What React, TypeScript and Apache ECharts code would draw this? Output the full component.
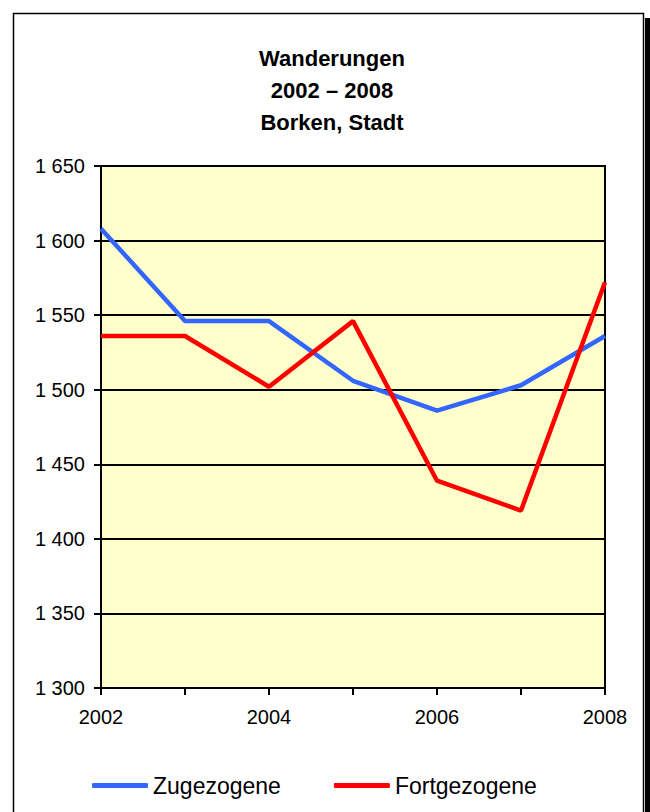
import React, { useEffect, useRef } from "react";
import * as echarts from "echarts";

const years = ["2002", "2003", "2004", "2005", "2006", "2007", "2008"];
const zugezogene = [1608, 1546, 1546, 1506, 1486, 1503, 1536];
const fortgezogene = [1536, 1536, 1502, 1546, 1439, 1419, 1572];
const titleLines = ["Wanderungen", "2002 – 2008", "Borken, Stadt"];
const yMin = 1300;
const yMax = 1650;
const yStep = 50;

const FONT = "'Liberation Sans', Arial, sans-serif";

export default function App() {
  const ref = useRef<HTMLDivElement>(null);
  useEffect(() => {
    if (!ref.current) return;
    const chart = echarts.init(ref.current, null, { renderer: "svg" });
    chart.setOption({
      animation: false,
      backgroundColor: "#ffffff",
      textStyle: { fontFamily: FONT },
      title: {
        text: titleLines.join("\n"),
        left: 327,
        textAlign: "center",
        top: 37,
        textStyle: {
          fontFamily: FONT,
          fontSize: 22,
          fontWeight: "bold",
          color: "#000",
          lineHeight: 32,
        },
      },
      graphic: [
        {
          type: "rect",
          shape: { x: 13.5, y: 13.5, width: 630, height: 820 },
          style: { fill: "none", stroke: "#000", lineWidth: 1.5 },
          z: 100,
        },
        {
          type: "rect",
          shape: { x: 645, y: 18, width: 6, height: 800 },
          style: { fill: "#000" },
          z: 100,
        },
      ],
      legend: {
        left: 87,
        top: 769,
        itemWidth: 56,
        itemHeight: 5,
        itemGap: 53,
        icon: "roundRect",
        textStyle: { fontFamily: FONT, fontSize: 23, color: "#000" },
        data: ["Zugezogene", "Fortgezogene"],
      },
      grid: {
        left: 101,
        right: 45,
        top: 166,
        bottom: 124,
        show: true,
        backgroundColor: "#FFFFCC",
        borderColor: "#000",
        borderWidth: 2,
      },
      xAxis: {
        type: "category",
        data: years,
        boundaryGap: false,
        axisLine: { lineStyle: { color: "#000", width: 2 } },
        axisTick: { show: true, interval: 0, length: 7, lineStyle: { color: "#000", width: 2 } },
        axisLabel: { interval: 1, color: "#000", fontSize: 20, fontFamily: FONT, margin: 19 },
        splitLine: { show: false },
      },
      yAxis: {
        type: "value",
        min: yMin,
        max: yMax,
        interval: yStep,
        axisLine: { show: true, lineStyle: { color: "#000", width: 2 } },
        axisTick: { show: true, length: 7, lineStyle: { color: "#000", width: 2 } },
        axisLabel: {
          color: "#000",
          fontSize: 20,
          fontFamily: FONT,
          margin: 16,
          formatter: (v: number) => String(v).replace(/\B(?=(\d{3})+(?!\d))/g, " "),
        },
        splitLine: { show: true, lineStyle: { color: "#000", width: 2 } },
      },
      series: [
        {
          name: "Zugezogene",
          type: "line",
          data: zugezogene,
          symbol: "none",
          lineStyle: { color: "#3366FF", width: 4.5 },
          itemStyle: { color: "#3366FF" },
          z: 3,
        },
        {
          name: "Fortgezogene",
          type: "line",
          data: fortgezogene,
          symbol: "none",
          lineStyle: { color: "#FF0000", width: 4.5 },
          itemStyle: { color: "#FF0000" },
          z: 4,
        },
      ],
    });
    return () => chart.dispose();
  }, []);
  return (
    <div
      ref={ref}
      style={{ position: "absolute", left: 0, top: 0, width: 650, height: 812 }}
    />
  );
}
